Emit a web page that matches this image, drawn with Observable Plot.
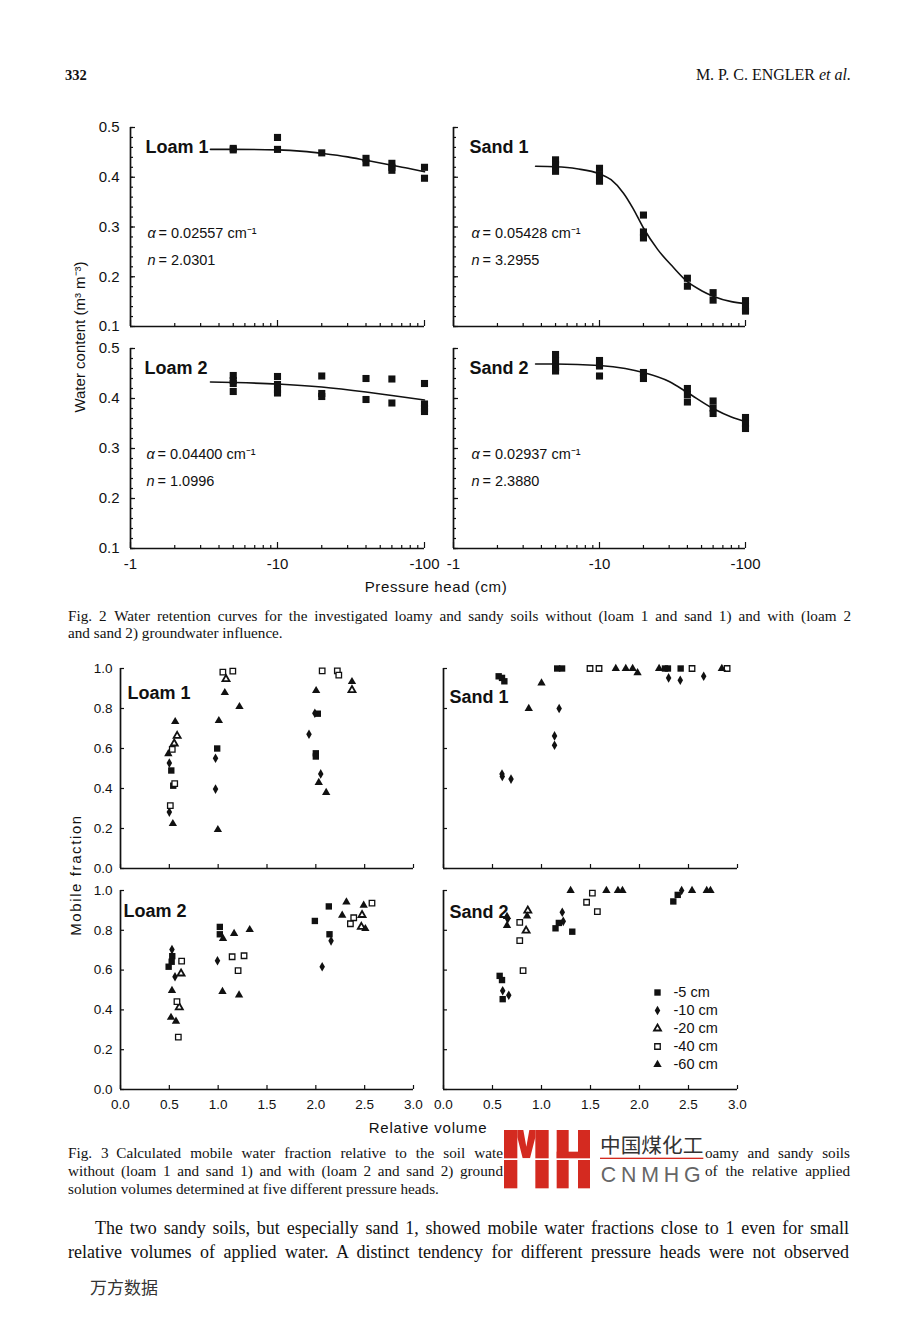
<!DOCTYPE html>
<html><head><meta charset="utf-8">
<script src="https://cdn.jsdelivr.net/npm/d3@7"></script>
<script src="https://cdn.jsdelivr.net/npm/@observablehq/plot@0.6"></script>
<style>
body{margin:0;background:#fff;}
#page{position:relative;width:904px;height:1320px;overflow:hidden;background:#fff;color:#111;}
.abs{position:absolute;}
.serif{font-family:"Liberation Serif","Times New Roman",serif;}
.sans{font-family:"Liberation Sans",Arial,Helvetica,sans-serif;}
.cap{font-size:15.2px;line-height:18px;white-space:nowrap;}
.body{font-size:18px;line-height:24px;white-space:nowrap;}
.rot{transform:translate(-50%,-50%) rotate(-90deg);white-space:nowrap;}
.ctr{transform:translate(-50%,-50%);white-space:nowrap;}
</style></head>
<body><div id="page">
<div class="abs serif" style="left:65px;top:66px;font-size:14.5px;line-height:18px;font-weight:bold;">332</div>
<div class="abs serif" style="right:53px;top:66px;font-size:16px;line-height:18px;">M. P. C. ENGLER <i>et al.</i></div>

<div class="abs sans rot" style="left:79px;top:337px;font-size:15px;">Water content (m³ m⁻³)</div>
<div class="abs sans ctr" style="left:436px;top:586px;font-size:15px;letter-spacing:0.6px;">Pressure head (cm)</div>

<div class="abs serif cap fit" data-w="783" style="left:68px;top:607px;">Fig. 2&ensp;Water retention curves for the investigated loamy and sandy soils without (loam 1 and sand 1) and with (loam 2</div>
<div class="abs serif cap" style="left:68px;top:624px;">and sand 2) groundwater influence.</div>

<div class="abs sans rot" style="left:75px;top:875px;font-size:15px;letter-spacing:1.6px;">Mobile fraction</div>
<div class="abs sans ctr" style="left:428px;top:1127px;font-size:15px;letter-spacing:0.8px;">Relative volume</div>

<div class="abs serif cap fit" data-w="435" style="left:68px;top:1144px;">Fig. 3&ensp;Calculated mobile water fraction relative to the soil wate</div>
<div class="abs serif cap fit" data-w="145" style="left:705px;top:1144px;">oamy and sandy soils</div>
<div class="abs serif cap fit" data-w="435" style="left:68px;top:1162px;">without (loam 1 and sand 1) and with (loam 2 and sand 2) ground</div>
<div class="abs serif cap fit" data-w="145" style="left:705px;top:1162px;">of the relative applied</div>
<div class="abs serif cap" style="left:68px;top:1180px;">solution volumes determined at five different pressure heads.</div>

<svg class="abs" style="left:490px;top:1120px" width="370" height="80" viewBox="0 0 1110 240">
<g fill="#d42a20">
<rect x="42" y="30" width="40" height="175"/>
<rect x="136" y="30" width="40" height="175"/>
<polygon points="82,30 100,30 109,80 118,30 136,30 136,52 120,115 98,115 82,52"/>
<rect x="200" y="30" width="36" height="175"/>
<rect x="264" y="30" width="36" height="175"/>
<rect x="200" y="95" width="100" height="22"/>
<rect x="330" y="113" width="310" height="4"/>
</g>
<rect x="40" y="115" width="265" height="5" fill="#fff"/>
<text x="330" y="100" font-size="62" fill="#333" textLength="310" lengthAdjust="spacingAndGlyphs" font-family="Noto Sans CJK SC">中国煤化工</text>
<text x="332" y="187" font-size="64" fill="#666" textLength="300" lengthAdjust="spacing" font-family="Liberation Sans" >C N M H G</text>
</svg>

<div class="abs serif body fit" data-w="754" style="left:95px;top:1216px;">The two sandy soils, but especially sand 1, showed mobile water fractions close to 1 even for small</div>
<div class="abs serif body fit" data-w="781" style="left:68px;top:1240px;">relative volumes of applied water. A distinct tendency for different pressure heads were not observed</div>
<div class="abs" style="left:90px;top:1276px;font-size:17px;line-height:22px;color:#333;font-family:'Noto Sans CJK SC';">万方数据</div>
</div>
<script>
// ---------- Fig. 2 data: water retention ----------
const soils = ["Loam 1", "Sand 1", "Loam 2", "Sand 2"];
const alphaValues = ["0.02557", "0.05428", "0.04400", "0.02937"];
const nValues = ["2.0301", "3.2955", "1.0996", "2.3880"];
const pressureTicks = [1, 10, 100];
const pressureMinor = [2, 3, 4, 5, 6, 7, 8, 9, 20, 30, 40, 50, 60, 70, 80, 90];
const waterTicks = [0.1, 0.2, 0.3, 0.4, 0.5];

// [pressure head |cm|, water content]
const loam1Obs = [[5,0.455],[5,0.458],[10,0.480],[10,0.456],[20,0.449],[40,0.438],[40,0.429],[60,0.428],[60,0.420],[60,0.414],[100,0.420],[100,0.398]];
const loam1Fit = [[3.5,0.456],[5,0.456],[10,0.455],[15,0.452],[20,0.448],[30,0.441],[40,0.434],[60,0.424],[80,0.417],[100,0.411]];
const sand1Obs = [[5,0.435],[5,0.425],[5,0.412],[10,0.418],[10,0.405],[10,0.392],[20,0.324],[20,0.290],[20,0.278],[40,0.197],[40,0.181],[60,0.168],[60,0.153],[100,0.152],[100,0.140],[100,0.131]];
const sand1Fit = [[3.65,0.422],[5,0.421],[7,0.417],[10,0.407],[12,0.395],[14.6,0.368],[17,0.337],[20,0.298],[25,0.255],[32,0.219],[40,0.19],[50,0.172],[60,0.161],[80,0.150],[100,0.146]];
const loam2Obs = [[5,0.446],[5,0.436],[5,0.430],[5,0.414],[10,0.444],[10,0.428],[10,0.418],[10,0.411],[20,0.445],[20,0.410],[20,0.404],[40,0.440],[40,0.398],[60,0.439],[60,0.391],[100,0.430],[100,0.389],[100,0.380],[100,0.374]];
const loam2Fit = [[3.5,0.433],[5,0.432],[10,0.429],[20,0.423],[40,0.413],[60,0.406],[100,0.397]];
const sand2Obs = [[5,0.488],[5,0.475],[5,0.462],[5,0.455],[10,0.476],[10,0.465],[10,0.445],[20,0.452],[20,0.440],[40,0.420],[40,0.408],[40,0.393],[60,0.395],[60,0.381],[60,0.370],[100,0.362],[100,0.350],[100,0.340]];
const sand2Fit = [[3.65,0.469],[5,0.469],[10,0.466],[15,0.460],[20,0.452],[30,0.434],[40,0.412],[60,0.380],[80,0.363],[100,0.354]];

// ---------- Fig. 3 data: mobile water fraction ----------
const depthKeys = [5, 10, 20, 40, 60];
const depthLabels = ["-5 cm", "-10 cm", "-20 cm", "-40 cm", "-60 cm"];
const volumeTicks = [0, 0.5, 1, 1.5, 2, 2.5, 3];
const fractionTicks = [0, 0.2, 0.4, 0.6, 0.8, 1];
// [relative volume, mobile fraction, pressure head |cm|]
const loam1Mob = [[0.52,0.49,5],[0.54,0.414,5],[0.50,0.527,10],[0.50,0.282,10],[0.58,0.663,20],[0.55,0.625,20],[0.53,0.596,40],[0.555,0.424,40],[0.51,0.314,40],[0.56,0.734,60],[0.49,0.573,60],[0.536,0.224,60],
  [1.048,0.982,40],[1.15,0.987,40],[1.08,0.947,20],[1.068,0.879,60],[1.218,0.809,60],[1.007,0.739,60],[0.99,0.60,5],[0.973,0.551,10],[0.973,0.397,10],[0.997,0.194,60],
  [2.065,0.988,40],[2.22,0.988,40],[2.235,0.967,40],[2.37,0.934,60],[2.37,0.892,20],[2.003,0.889,60],[1.99,0.776,10],[2.02,0.774,5],[1.93,0.671,10],[2.0,0.576,5],[2.0,0.56,5],[2.05,0.473,10],[2.03,0.43,60],[2.106,0.38,60]];
const sand1Mob = [[0.563,0.961,5],[0.597,0.953,5],[0.621,0.936,5],[0.597,0.472,10],[0.60,0.46,10],[0.689,0.447,10],[0.87,0.80,60],[1.0,0.927,60],[1.133,0.663,10],[1.133,0.616,10],[1.18,0.80,10],
  [1.16,1.0,5],[1.21,1.0,5],[1.495,1.0,40],[1.587,1.0,40],[1.758,1.0,60],[1.86,1.0,60],[1.93,1.0,60],[1.98,0.978,60],[2.2,1.0,60],[2.26,1.0,5],[2.29,1.0,5],[2.297,0.953,10],[2.416,0.941,10],[2.42,1.0,5],[2.536,1.0,40],[2.655,0.961,10],[2.84,1.0,60],[2.894,1.0,40]];
const loam2Mob = [[0.527,0.703,10],[0.53,0.67,5],[0.524,0.642,5],[0.493,0.617,5],[0.626,0.645,40],[0.62,0.583,20],[0.558,0.567,10],[0.527,0.497,60],[0.578,0.442,40],[0.602,0.413,20],[0.517,0.362,60],[0.568,0.342,60],[0.592,0.263,40],
  [1.017,0.817,5],[1.017,0.78,5],[1.05,0.758,60],[1.163,0.783,60],[1.323,0.803,60],[0.993,0.647,10],[1.143,0.667,40],[1.265,0.672,40],[1.204,0.597,40],[1.044,0.492,60],[1.214,0.475,60],
  [1.99,0.847,5],[2.133,0.92,5],[2.14,0.78,5],[2.156,0.747,10],[2.065,0.617,10],[2.313,0.942,60],[2.27,0.875,60],[2.354,0.833,40],[2.388,0.863,40],[2.473,0.877,20],[2.49,0.925,60],[2.575,0.937,40],[2.466,0.817,20],[2.507,0.808,60]];
const sand2Mob = [[0.648,0.869,60],[0.648,0.824,60],[0.655,0.857,10],[0.86,0.899,20],[0.853,0.871,60],[0.778,0.84,40],[0.843,0.798,20],[0.778,0.748,40],[0.812,0.597,40],
  [0.573,0.571,5],[0.597,0.55,5],[0.604,0.496,10],[0.666,0.474,10],[0.604,0.454,5],
  [1.297,1.0,60],[1.519,0.987,40],[1.46,0.941,40],[1.57,0.894,40],[1.662,1.0,60],[1.78,1.0,60],[1.826,1.0,60],[1.212,0.891,10],[1.222,0.845,10],[1.143,0.81,5],[1.177,0.837,5],[1.314,0.793,5],
  [2.345,0.945,5],[2.39,0.978,5],[2.43,1.0,10],[2.536,1.0,60],[2.686,1.0,60],[2.724,1.0,60]];

// ---------- styling ----------
const INK = "#111";
const FONT = '"Liberation Sans", Arial, Helvetica, sans-serif';
const depthStyle = {
  5:  {symbol: "square",   r: 3.6, fill: INK, stroke: "none"},
  10: {symbol: "diamond",  r: 2.9, fill: INK, stroke: "none"},
  20: {symbol: "triangle", r: 2.6, fill: "#fff", stroke: INK, strokeWidth: 1.8},
  40: {symbol: "square",   r: 3.1, fill: "#fff", stroke: INK, strokeWidth: 1.3},
  60: {symbol: "triangle", r: 3.1, fill: INK, stroke: "none"}
};
const page = document.getElementById("page");
function put(el, left, top) {
  el.style.position = "absolute"; el.style.left = left + "px"; el.style.top = top + "px";
  page.appendChild(el);
}
const empty = () => "";

function retention(i, obs, fit, g) {
  const marks = [
    Plot.axisY({ticks: d3.range(0.1, 0.5001, 0.02), tickSize: -3, tickFormat: empty, label: null, strokeWidth: 1.2}),
    Plot.axisY({ticks: waterTicks, tickSize: -5, tickFormat: empty, label: null, strokeWidth: 1.2}),
    Plot.axisX({ticks: pressureMinor, tickSize: -3, tickFormat: empty, label: null, strokeWidth: 1.2}),
    Plot.axisX({ticks: pressureTicks, tickSize: -6, tickFormat: empty, label: null, strokeWidth: 1.2}),
    Plot.ruleX([1], {stroke: INK, strokeWidth: 1.7}),
    Plot.ruleY([0.1], {stroke: INK, strokeWidth: 1.7}),
    Plot.line(fit, {x: d => d[0], y: d => d[1], curve: "monotone-x", stroke: INK, strokeWidth: 1.6}),
    Plot.dot(obs, {x: d => d[0], y: d => d[1], symbol: "square", r: 4, fill: INK, stroke: "none"}),
    Plot.text([soils[i]], {text: d => d, frameAnchor: "top-left", dx: g.lx, dy: 20, textAnchor: "start", lineAnchor: "middle", fontWeight: "bold", fontSize: 18}),
    Plot.text(["α"], {text: d => d, frameAnchor: "top-left", dx: g.lx + 2, dy: 106, textAnchor: "start", lineAnchor: "middle", fontStyle: "italic", fontSize: 14.5}),
    Plot.text([`= ${alphaValues[i]} cm⁻¹`], {text: d => d, frameAnchor: "top-left", dx: g.lx + 13, dy: 106, textAnchor: "start", lineAnchor: "middle", fontSize: 14.5}),
    Plot.text(["n"], {text: d => d, frameAnchor: "top-left", dx: g.lx + 2, dy: 133, textAnchor: "start", lineAnchor: "middle", fontStyle: "italic", fontSize: 14.5}),
    Plot.text([`= ${nValues[i]}`], {text: d => d, frameAnchor: "top-left", dx: g.lx + 13, dy: 133, textAnchor: "start", lineAnchor: "middle", fontSize: 14.5})
  ];
  if (g.yLabels) marks.push(Plot.axisY({ticks: waterTicks, tickSize: 0, tickPadding: 11, tickFormat: d3.format(".1f"), label: null}));
  if (g.xLabels) marks.push(Plot.axisX({ticks: pressureTicks, tickSize: 0, tickPadding: 10, tickFormat: d => "-" + d, label: null}));
  const svg = Plot.plot({
    width: g.ml + g.pw + g.mr, height: g.mt + g.ph + g.mb,
    marginLeft: g.ml, marginRight: g.mr, marginTop: g.mt, marginBottom: g.mb,
    x: {type: "log", domain: [1, 100]},
    y: {domain: [0.1, 0.5]},
    style: {fontFamily: FONT, fontSize: "15px", color: INK, background: "transparent", overflow: "visible"},
    marks
  });
  put(svg, g.left, g.top);
}

function mobile(i, data, g) {
  const marks = [
    Plot.axisY({ticks: fractionTicks, tickSize: -4, tickFormat: empty, label: null, strokeWidth: 1.2}),
    Plot.axisX({ticks: volumeTicks, tickSize: -4, tickFormat: empty, label: null, strokeWidth: 1.2}),
    Plot.ruleX([0], {stroke: INK, strokeWidth: 1.7}),
    Plot.ruleY([0], {stroke: INK, strokeWidth: 1.7}),
    ...depthKeys.map(k => Plot.dot(data, {filter: d => d[2] === k, x: d => d[0], y: d => d[1], ...depthStyle[k]})),
    Plot.text([soils[i]], {text: d => d, frameAnchor: "top-left", dx: g.lx, dy: g.ly, textAnchor: "start", lineAnchor: "middle", fontWeight: "bold", fontSize: 18})
  ];
  if (g.yLabels) marks.push(Plot.axisY({ticks: fractionTicks, tickSize: 0, tickPadding: 8, tickFormat: d3.format(".1f"), label: null}));
  if (g.xLabels) marks.push(Plot.axisX({ticks: volumeTicks, tickSize: 0, tickPadding: 10, tickFormat: d3.format(".1f"), label: null}));
  const svg = Plot.plot({
    width: g.ml + g.pw + g.mr, height: g.mt + g.ph + g.mb,
    marginLeft: g.ml, marginRight: g.mr, marginTop: g.mt, marginBottom: g.mb,
    x: {domain: [0, 3]},
    y: {domain: [0, 1]},
    style: {fontFamily: FONT, fontSize: "13.5px", color: INK, background: "transparent", overflow: "visible"},
    marks
  });
  put(svg, g.left, g.top);
}

retention(0, loam1Obs, loam1Fit, {left: 60,  top: 110, ml: 70, pw: 294, mr: 20, mt: 17, ph: 199, mb: 14, lx: 15, yLabels: true});
retention(1, sand1Obs, sand1Fit, {left: 443, top: 110, ml: 10, pw: 292, mr: 30, mt: 17, ph: 199, mb: 14, lx: 16});
retention(2, loam2Obs, loam2Fit, {left: 60,  top: 331, ml: 70, pw: 294, mr: 20, mt: 17, ph: 200, mb: 30, lx: 14, yLabels: true, xLabels: true});
retention(3, sand2Obs, sand2Fit, {left: 443, top: 331, ml: 10, pw: 292, mr: 30, mt: 17, ph: 200, mb: 30, lx: 16, xLabels: true});

mobile(0, loam1Mob, {left: 60,  top: 650, ml: 60, pw: 293, mr: 20, mt: 18, ph: 200, mb: 12, lx: 7, ly: 25, yLabels: true});
mobile(1, sand1Mob, {left: 433, top: 650, ml: 10, pw: 294, mr: 25, mt: 18, ph: 200, mb: 12, lx: 6, ly: 29});
mobile(2, loam2Mob, {left: 60,  top: 872, ml: 60, pw: 293, mr: 20, mt: 18, ph: 199, mb: 30, lx: 3, ly: 21, yLabels: true, xLabels: true});
mobile(3, sand2Mob, {left: 433, top: 872, ml: 10, pw: 294, mr: 25, mt: 18, ph: 199, mb: 30, lx: 6, ly: 22, xLabels: true});

// legend
const legendRows = depthKeys.map((k, i) => ({key: k, label: depthLabels[i]}));
const legend = Plot.plot({
  width: 100, height: 90, margin: 0,
  y: {type: "point", domain: depthLabels, range: [9, 81], padding: 0, axis: null},
  style: {fontFamily: FONT, fontSize: "14.5px", color: INK, background: "transparent", overflow: "visible"},
  marks: [
    ...depthKeys.map(k => Plot.dot(legendRows, {filter: d => d.key === k, y: "label", frameAnchor: "left", dx: 7, ...depthStyle[k]})),
    Plot.text(legendRows, {y: "label", text: "label", frameAnchor: "left", dx: 23, textAnchor: "start"})
  ]
});
put(legend, 650, 983);

// justify each printed line to its measured width
document.querySelectorAll(".fit").forEach(el => {
  const target = +el.dataset.w;
  const natural = el.getBoundingClientRect().width;
  const spaces = (el.textContent.match(/ /g) || []).length;
  if (spaces) el.style.wordSpacing = ((target - natural) / spaces) + "px";
});
</script>
</body></html>
